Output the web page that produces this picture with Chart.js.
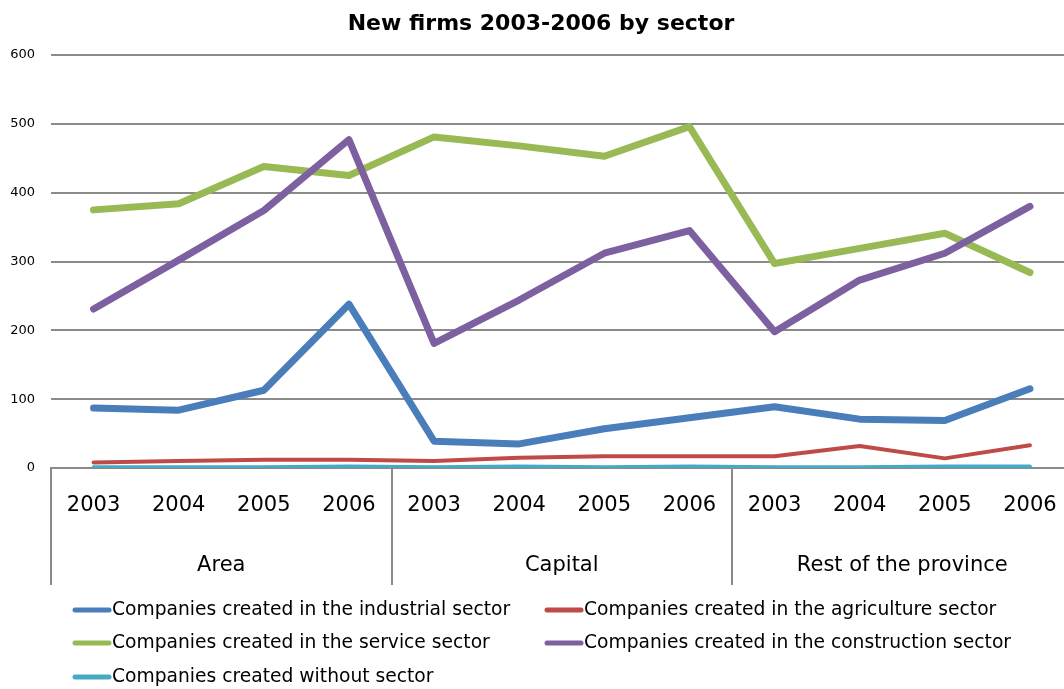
<!DOCTYPE html>
<html>
<head>
<meta charset="utf-8">
<script src="https://cdn.jsdelivr.net/npm/chart.js@4.4.1/dist/chart.umd.min.js"></script>
<style>
  html, body { margin: 0; padding: 0; background: #fff; overflow: hidden; }
  #wrap { width: 1082px; height: 689px; }
</style>
</head>
<body>
<div id="wrap"><canvas id="chart" width="1082" height="689"></canvas></div>
<script>
// Years shown under each region block
const years = ['2003', '2004', '2005', '2006', '2003', '2004', '2005', '2006', '2003', '2004', '2005', '2006'];
const regions = ['Area', 'Capital', 'Rest of the province'];

// New firms per sector
const industrial   = [87, 84, 113, 238, 39, 35, 57, 73, 89, 71, 69, 115];
const agriculture  = [8, 10, 12, 12, 10, 15, 17, 17, 17, 32, 14, 33];
const service      = [375, 384, 438, 425, 481, 468, 453, 496, 297, 319, 341, 284];
const construction = [231, 302, 374, 477, 181, 244, 312, 345, 198, 273, 312, 380];
const noSector     = [1, 1, 1, 2, 1, 2, 1, 2, 1, 1, 2, 2];

const seriesNames = [
  'Companies created in the industrial sector',
  'Companies created in the agriculture sector',
  'Companies created in the service sector',
  'Companies created in the construction sector',
  'Companies created without sector'
];

const FONT = "'DejaVu Sans', Verdana, sans-serif";
const GRID = '#8a8a8a';

function series(label, data, color, width, order) {
  return {
    label, data,
    xAxisID: 'x',
    borderColor: color,
    backgroundColor: color,
    borderWidth: width,
    pointRadius: 0,
    pointHoverRadius: 0,
    tension: 0,
    borderCapStyle: 'round',
    borderJoinStyle: 'round',
    fill: false,
    order
  };
}

// Vertical separators between the region blocks, below the plot
const regionSeparators = {
  id: 'regionSeparators',
  afterDraw(chart) {
    const x = chart.scales.x;
    const n = x.ticks.length;
    const half = (x.getPixelForTick(1) - x.getPixelForTick(0)) / 2;
    const ctx = chart.ctx;
    ctx.save();
    ctx.strokeStyle = GRID;
    ctx.lineWidth = 2;
    for (let i = 0; i <= n; i += 4) {
      const px = Math.round(i < n ? x.getPixelForTick(i) - half : x.getPixelForTick(n - 1) + half);
      ctx.beginPath();
      ctx.moveTo(px, chart.chartArea.bottom);
      ctx.lineTo(px, 585);
      ctx.stroke();
    }
    ctx.restore();
  }
};

// Legend laid out in two fixed columns below the axes
const gridLegend = {
  id: 'gridLegend',
  afterDraw(chart) {
    const ctx = chart.ctx;
    const cols = [73, 545];
    const rows = [610, 643, 677];
    ctx.save();
    ctx.font = '18.7px ' + FONT;
    ctx.textBaseline = 'middle';
    ctx.textAlign = 'left';
    chart.data.datasets.forEach((ds, i) => {
      const x = cols[i % 2];
      const y = rows[Math.floor(i / 2)];
      ctx.strokeStyle = ds.borderColor;
      ctx.lineWidth = 5;
      ctx.lineCap = 'round';
      ctx.beginPath();
      ctx.moveTo(x + 2, y);
      ctx.lineTo(x + 36, y);
      ctx.stroke();
      ctx.fillStyle = '#000';
      ctx.fillText(ds.label, x + 39, y);
    });
    ctx.restore();
  }
};

new Chart(document.getElementById('chart'), {
  type: 'line',
  data: {
    labels: years,
    datasets: [
      series(seriesNames[0], industrial, '#4a7ebb', 7, 5),
      series(seriesNames[1], agriculture, '#be4b48', 4, 4),
      series(seriesNames[2], service, '#98b954', 7, 3),
      series(seriesNames[3], construction, '#7d60a0', 7, 2),
      series(seriesNames[4], noSector, '#46aac5', 4, 1)
    ]
  },
  options: {
    responsive: false,
    animation: false,
    layout: { padding: { top: 0, left: 8, right: 8, bottom: 114 } },
    plugins: {
      legend: { display: false },
      tooltip: { enabled: false },
      title: {
        display: true,
        text: 'New firms 2003-2006 by sector',
        color: '#000',
        font: { family: FONT, size: 22, weight: 'bold', lineHeight: 1.2 },
        padding: { top: 11, bottom: 17.6 }
      }
    },
    scales: {
      y: {
        min: 0,
        max: 600,
        afterFit(scale) { scale.width = 43; },
        ticks: {
          stepSize: 100,
          color: '#000',
          padding: 16,
          font: { family: FONT, size: 13 }
        },
        grid: { color: GRID, lineWidth: 2, drawTicks: false },
        border: { display: false }
      },
      x: {
        type: 'category',
        offset: true,
        position: 'bottom',
        afterFit(scale) { scale.height = 47; },
        ticks: {
          autoSkip: false,
          maxRotation: 0,
          color: '#000',
          padding: 25,
          font: { family: FONT, size: 21, lineHeight: 1.2 }
        },
        grid: { display: false, drawTicks: false },
        border: { display: true, color: GRID, width: 2 }
      },
      x2: {
        type: 'category',
        labels: regions,
        offset: true,
        position: 'bottom',
        afterFit(scale) { scale.height = 60; },
        ticks: {
          autoSkip: false,
          maxRotation: 0,
          color: '#000',
          padding: 38,
          font: { family: FONT, size: 21, lineHeight: 1.2 }
        },
        grid: { display: false, drawTicks: false },
        border: { display: false }
      }
    }
  },
  plugins: [regionSeparators, gridLegend]
});
</script>
</body>
</html>
